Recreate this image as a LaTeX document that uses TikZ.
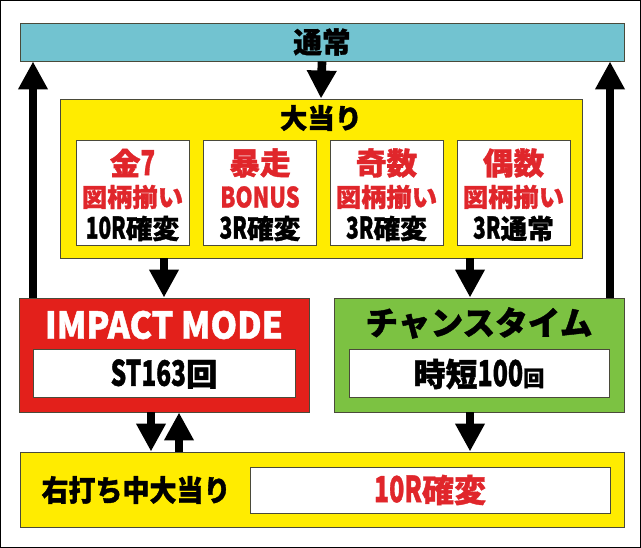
\documentclass[tikz,border=0pt]{standalone}
\usepackage{fontspec}
\usepackage{graphicx}
\newfontfamily\jp{Noto Sans CJK JP}[BoldFeatures={FakeBold=1.2}]
\usetikzlibrary{arrows.meta,calc}
\definecolor{cyanbox}{HTML}{72C3D0}
\definecolor{yel}{HTML}{FFEC00}
\definecolor{redbox}{HTML}{E3201B}
\definecolor{grnbox}{HTML}{7CC242}
\definecolor{redtxt}{HTML}{E0262B}
\definecolor{edge}{HTML}{4A4A3A}
\newcommand{\cond}[2]{\scalebox{#1}[1]{#2}}
\newcommand{\tall}[1]{\scalebox{0.78}[1.12]{#1}}
\newcommand{\fsz}[1]{\fontsize{#1}{#1}\selectfont}
\begin{document}
\begin{tikzpicture}[x=0.75pt,y=-0.75pt,
  box/.style={draw=edge,line width=0.7pt,inner sep=0pt,anchor=center},
  txt/.style={inner sep=0pt,anchor=center,font=\jp\bfseries},
  arr/.style={line width=6.5pt,-{Triangle[width=21pt,length=21pt]}},
]
\useasboundingbox (0,0) rectangle (641,548);
\node[box,draw=black,line width=0.8pt,minimum width={639.5*0.75pt},minimum height={546.5*0.75pt}] (frame) at (320.5,274) {};
% main boxes
\node[box,fill=cyanbox,minimum width={604*0.75pt},minimum height={38*0.75pt}] (tsujo) at (322,42) {};
\node[txt,font=\jp\bfseries\fsz{21.5pt}] (tsujoT) at (322,42) {通常};
\node[box,fill=yel,minimum width={522*0.75pt},minimum height={159*0.75pt}] (ooatari) at (321,178.5) {};
\node[txt,font=\jp\bfseries\fsz{20.5pt}] (ooatariT) at (321,118) {大当り};
% sub boxes
\foreach \n/\cx in {1/132.5,2/260,3/386.5,4/513.5}{
  \node[box,fill=white,minimum width={113*0.75pt},minimum height={105*0.75pt}] (s\n) at (\cx,192.5) {};
}
\tikzset{l1/.style={txt,text=redtxt,font=\jp\bfseries\fsz{23pt}},
         l2/.style={txt,text=redtxt,font=\jp\bfseries\fsz{19pt}},
         l3/.style={txt,text=black,font=\jp\bfseries\fsz{20pt}}}
\node[l1] (s1a) at (132.5,163) {金\tall{7}};
\node[l2] (s1b) at (132.5,197) {図柄揃い};
\node[l3] (s1c) at (132.5,228.5) {\tall{10R}確変};
\node[l1] (s2a) at (260,163) {暴走};
\node[l2] (s2b) at (260,197) {\cond{0.78}{\fsz{21pt}BONUS}};
\node[l3] (s2c) at (260,228.5) {\tall{3R}確変};
\node[l1] (s3a) at (386.5,163) {奇数};
\node[l2] (s3b) at (386.5,197) {図柄揃い};
\node[l3] (s3c) at (386.5,228.5) {\tall{3R}確変};
\node[l1] (s4a) at (513.5,163) {偶数};
\node[l2] (s4b) at (513.5,197) {図柄揃い};
\node[l3] (s4c) at (513.5,228.5) {\tall{3R}通常};
% IMPACT MODE
\node[box,fill=redbox,minimum width={290*0.75pt},minimum height={114*0.75pt}] (impact) at (164,355) {};
\node[txt,text=white] (impactT) at (164,325) {\resizebox{178.5pt}{21pt}{IMPACT MODE}};
\node[box,fill=white,minimum width={262*0.75pt},minimum height={48*0.75pt}] (impactW) at (164,373) {};
\node[txt,font=\jp\bfseries\fsz{23.5pt}] (impactV) at (164,374) {\tall{ST163}回};
% chance time
\node[box,fill=grnbox,minimum width={290*0.75pt},minimum height={114*0.75pt}] (chance) at (479,355) {};
\node[txt,font=\jp\bfseries\fsz{24.5pt}] (chanceT) at (479,323) {チャンスタイム};
\node[box,fill=white,minimum width={260*0.75pt},minimum height={48*0.75pt}] (chanceW) at (479,373) {};
\node[txt,font=\jp\bfseries\fsz{24pt}] (chanceV) at (479,374) {時短\tall{100}{\fsz{16pt}回}};
% bottom
\node[box,fill=yel,minimum width={604*0.75pt},minimum height={75*0.75pt}] (migi) at (322,489.5) {};
\node[txt,font=\jp\bfseries\fsz{22pt}] (migiT) at (136,490) {\cond{0.92}{右打ち中大当り}};
\node[box,fill=white,minimum width={360*0.75pt},minimum height={46*0.75pt}] (migiW) at (430,490) {};
\node[txt,text=redtxt,font=\jp\bfseries\fsz{24pt}] (migiV) at (430,490) {\tall{10R}確変};
% arrows
\draw[arr] (tsujo.south) -- (ooatari.north);
\coordinate (a1) at (164,0);
\draw[arr] (a1 |- ooatari.south) -- (a1 |- impact.north);
\coordinate (a2) at (470,0);
\draw[arr] (a2 |- ooatari.south) -- (a2 |- chance.north);
\coordinate (a3) at (33,0);
\draw[arr] (a3 |- impact.north) -- (a3 |- tsujo.south);
\coordinate (a4) at (610,0);
\draw[arr] (a4 |- chance.north) -- (a4 |- tsujo.south);
\coordinate (a5) at (151,0);
\draw[arr] (a5 |- impact.south) -- (a5 |- migi.north);
\coordinate (a6) at (179,0);
\draw[arr] (a6 |- migi.north) -- (a6 |- impact.south);
\draw[arr] (a2 |- chance.south) -- (a2 |- migi.north);
\end{tikzpicture}
\end{document}
